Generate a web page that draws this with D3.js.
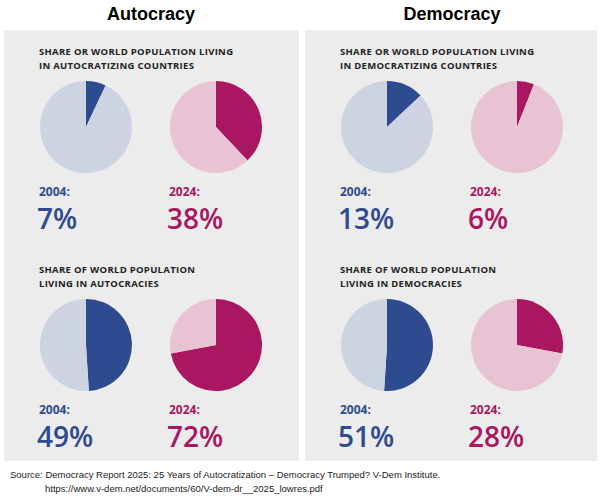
<!DOCTYPE html><html><head><meta charset="utf-8"><script src="https://cdn.jsdelivr.net/npm/d3@7"></script>
<style>body{margin:0;background:#fff}</style></head><body><svg id="c" width="600" height="498"></svg>
<script>
const panels = ["Autocracy","Democracy"];
const rowTitles = [
 [["SHARE OR WORLD POPULATION LIVING","IN AUTOCRATIZING COUNTRIES"],["SHARE OF WORLD POPULATION","LIVING IN AUTOCRACIES"]],
 [["SHARE OR WORLD POPULATION LIVING","IN DEMOCRATIZING COUNTRIES"],["SHARE OF WORLD POPULATION","LIVING IN DEMOCRACIES"]]
];
const years = ["2004","2024"];
const values = [[[7,38],[49,72]],[[13,6],[51,28]]];
const dark = ["#2e4b8f","#a8175f"], light = ["#cdd3e0","#e8c3d4"];
const svg = d3.select("#c");
const panelX = d3.scaleOrdinal().domain([0,1]).range([4,305]);
const pieOffset = [82,212];
const rowY = [0,218];
const arc = d3.arc().innerRadius(0).outerRadius(46);
panels.forEach((p,pi)=>{
  const x0 = panelX(pi);
  svg.append("rect").attr("x",x0).attr("y",30).attr("width",pi?292:295).attr("height",431).attr("fill","#ececec");
  svg.append("text").attr("x",x0+147).attr("y",20).attr("text-anchor","middle").attr("font-family","Liberation Sans, Arial").attr("font-weight","bold").attr("font-size",18).text(p);
  [0,1].forEach(r=>{
    const y0 = rowY[r];
    rowTitles[pi][r].forEach((t,i)=>svg.append("text").attr("x",x0+35).attr("y",y0+55+i*14).attr("font-family","Open Sans").attr("font-weight","bold").attr("font-size",9.5).attr("letter-spacing",0.3).attr("fill","#222").text(t));
    [0,1].forEach(k=>{
      const cx = x0+pieOffset[k], cy = y0+127, v = values[pi][r][k];
      const g = svg.append("g").attr("transform",`translate(${cx},${cy})`);
      const pie = d3.pie().sort(null)([v,100-v]);
      g.selectAll("path").data(pie).join("path").attr("d",arc).attr("fill",(d,i)=>i?light[k]:dark[k]);
      svg.append("text").attr("x",x0+pieOffset[k]-47).attr("y",y0+196).attr("font-family","Open Sans").attr("font-weight","bold").attr("font-size",12).attr("fill",dark[k]).text(years[k]+":");
      svg.append("text").attr("x",x0+pieOffset[k]-49).attr("y",y0+229).attr("font-family","Open Sans").attr("font-weight",600).attr("font-size",28).attr("fill",dark[k]).text(v+"%");
    });
  });
});
svg.append("text").attr("x",10).attr("y",478).attr("font-family","Liberation Sans Narrow, Liberation Sans").attr("font-size",9.5).attr("fill","#222").text("Source: Democracy Report 2025: 25 Years of Autocratization – Democracy Trumped? V-Dem Institute.");
svg.append("text").attr("x",45).attr("y",492).attr("font-family","Liberation Sans Narrow, Liberation Sans").attr("font-size",9.5).attr("fill","#222").text("https://www.v-dem.net/documents/60/V-dem-dr__2025_lowres.pdf");
</script></body></html>
